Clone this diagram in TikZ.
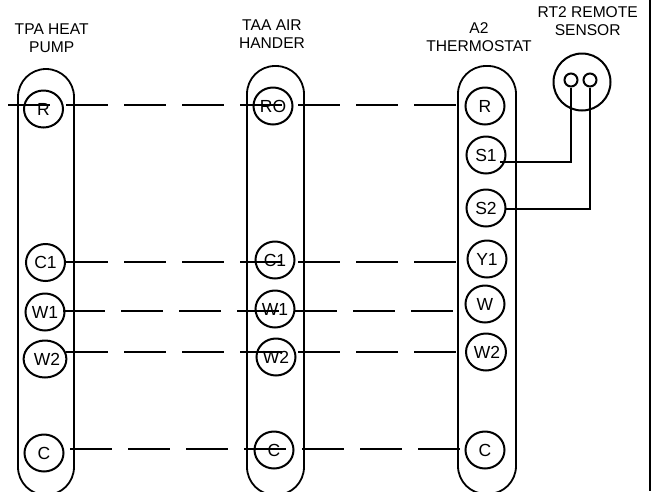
\documentclass[tikz,border=0pt]{standalone}
\usepackage{fontspec}
\setmainfont{Liberation Sans}
\usetikzlibrary{shapes.geometric}

\begin{document}
\begin{tikzpicture}[x=1pt,y=-1pt,
    term/.style={draw,ellipse,line width=2pt,inner sep=0pt,minimum width=39pt,minimum height=37pt,font=\fontsize{17.5}{18}\selectfont},
    pill/.style={draw,rounded corners=28pt,line width=1.8pt,inner sep=0pt},
    title/.style={align=center,font=\fontsize{15.6}{18}\selectfont},
    dashwire/.style={line width=2pt,dash pattern=on 41.5pt off 16.5pt},
    wire/.style={line width=2pt}]
      \clip (0,0) rectangle (654,491);

      \node[pill,minimum width=56pt,minimum height=426pt] (tpa) at (46,282) {};
      \node[pill,minimum width=57pt,minimum height=429pt] (taa) at (275.5,280.5) {};
      \node[pill,minimum width=58pt,minimum height=428pt] (a2) at (487,280) {};

      \node[title] at (51.7,38) {TPA HEAT\\PUMP};
      \node[title] at (272,34.5) {TAA AIR\\HANDER};
      \node[title] at (479,37) {A2\\THERMOSTAT};
      \node[title] at (587.7,21.5) {RT2 REMOTE\\SENSOR};

      \node[term] (tpar) at (43.5,109) {R};
      \node[term] (tpac1) at (45.5,262.5) {C1};
      \node[term] (tpaw1) at (45,312) {W1};
      \node[term] (tpaw2) at (45,359) {\kern4pt W2};
      \node[term] (tpac) at (44,453) {C};

      \node[term] (taaro) at (273,106) {RO};
      \node[term] (taac1) at (275,260) {C1};
      \node[term] (taaw1) at (275,309) {W1};
      \node[term] (taaw2) at (276,357) {W2};
      \node[term] (taac) at (274,450) {C};

      \node[term] (a2r) at (485,106) {R};
      \node[term] (a2s1) at (486,155) {S1};
      \node[term] (a2s2) at (486,208) {S2};
      \node[term] (a2y1) at (487,259) {Y1};
      \node[term] (a2w) at (485,304) {W};
      \node[term] (a2w2) at (486,352) {\kern2pt W2};
      \node[term] (a2c) at (485,450) {C};

      \node[draw,circle,line width=2pt,minimum size=57pt,inner sep=0pt] (sensor) at (582,82) {};
      \node[draw,circle,line width=2pt,minimum size=13pt,inner sep=0pt] (sensa) at (571,80) {};
      \node[draw,circle,line width=2pt,minimum size=13pt,inner sep=0pt] (sensb) at (590,80) {};

      \coordinate (rowr) at (8,105);
      \coordinate (rowc1) at (66,262);
      \coordinate (roww1) at (63,311);
      \coordinate (roww2) at (66,352);
      \coordinate (rowc) at (70,449);
      \coordinate (s1end) at (500,162);

      \draw[dashwire] (rowr) -- (rowr -| a2r.west);
      \draw[dashwire] (rowc1) -- (rowc1 -| a2y1.west);
      \draw[dashwire] (roww1) -- (roww1 -| a2w.west);
      \draw[dashwire] (roww2) -- (roww2 -| a2w2.west);
      \draw[dashwire] (rowc) -- (rowc -| a2c.west);

      \draw[wire] (sensa.south) |- (s1end);
      \draw[wire] (sensb.south) |- (a2s2.-4);

      \coordinate (edgetop) at (650,0);
      \coordinate (edgebot) at (650,491);
      \draw[line width=2.4pt] (edgetop) -- (edgebot);
    \end{tikzpicture}
\end{document}
